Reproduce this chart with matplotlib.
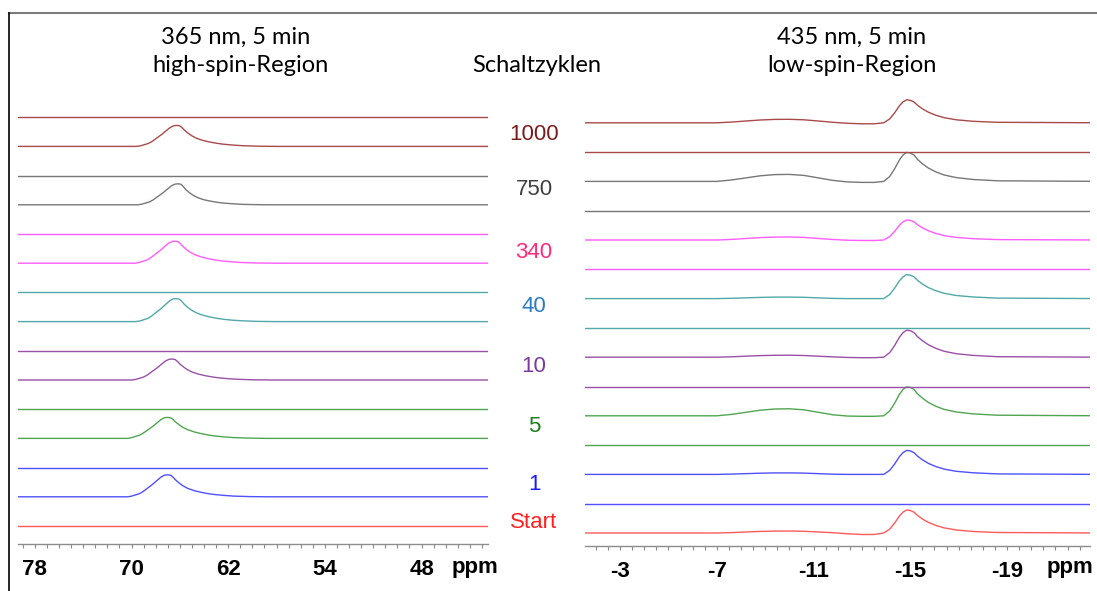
import matplotlib
matplotlib.use("Agg")
import matplotlib.pyplot as plt
from matplotlib.lines import Line2D

# --- data ---
cycles = ["Start", "1", "5", "10", "40", "340", "750", "1000"]

# high-spin region (365 nm): peak position of each peaked spectrum (cycles 1 .. 1000)
hs_center = [67.0, 67.0, 66.65, 66.3, 66.4, 66.15, 66.25]
# ppm offsets from the peak position, and heights (px above baseline) at those offsets
hs_offset = [14.0, 3.35, 3.05, 2.75, 2.35, 2.05, 1.65, 1.25, 0.85, 0.55, 0.25, 0.0,
             -0.25, -0.45, -0.65, -0.95, -1.25, -1.65, -2.15, -2.75, -3.35, -3.85,
             -4.65, -5.45, -6.75, -8.25, -27.0]
hs_height = [
    [0, 0, 0.5, 1.6, 3.1, 5.2, 8.9, 12.6, 16.8, 19.9, 21.7, 22, 21.5, 19.4, 16.8, 13.6, 11, 8.4, 6.3, 4.5, 3.1, 2.3, 1.4, 0.7, 0.2, 0, 0],   # 1
    [0, 0, 0.6, 1.7, 3.2, 5.2, 8.5, 12, 16, 19, 20.7, 21, 20.5, 18.7, 16.3, 13.5, 11, 8.7, 6.6, 4.8, 3.4, 2.5, 1.5, 0.8, 0.3, 0, 0],      # 5
    [0, 0, 0.5, 1.5, 3, 5, 8.5, 12, 16, 19, 20.7, 21, 20.5, 18.5, 16, 13, 10.5, 8, 6, 4.3, 3, 2.2, 1.3, 0.7, 0.2, 0, 0],                 # 10
    [0, 0, 0.5, 1.6, 3.3, 5.5, 9.3, 13.1, 17.5, 20.8, 22.7, 23, 22.4, 20.3, 17.5, 14.2, 11.5, 8.8, 6.6, 4.7, 3.3, 2.4, 1.4, 0.8, 0.2, 0, 0],  # 40
    [0, 0, 0.5, 1.6, 3.1, 5.2, 8.9, 12.6, 16.8, 19.9, 21.7, 22, 21.5, 19.4, 16.8, 13.6, 11, 8.4, 6.3, 4.5, 3.1, 2.3, 1.4, 0.7, 0.2, 0, 0],   # 340
    [0, 0, 0.5, 1.5, 3, 5, 8.5, 12, 16, 19, 20.7, 21, 20.5, 18, 15, 12, 9.5, 7, 5, 3.5, 2.3, 1.6, 0.9, 0.4, 0.1, 0, 0],                    # 750
    [0, 0, 0.5, 1.5, 3, 5, 8.5, 12, 16, 19, 20.7, 21, 20.5, 18.5, 16, 13, 10.5, 8, 6, 4.3, 3, 2.2, 1.3, 0.7, 0.2, 0, 0],                 # 1000
]
hs_flat_ppm = [82.0, 38.0]
hs_flat_height = [0, 0]

# low-spin region (435 nm): peaked spectra for Start, 1 .. 1000
ls_ppm = [-1.0, -7.0, -7.6, -8.2, -8.8, -9.4, -10.0, -10.6, -11.2, -11.8, -12.4, -13.0, -13.5,
          -13.9, -14.15, -14.35, -14.55, -14.7, -14.85, -15.0, -15.15, -15.3, -15.5, -15.75,
          -16.05, -16.4, -16.9, -17.6, -18.6, -23.0]
ls_height = [
    [0, 0, 0.4, 1, 1.6, 1.9, 2, 1.7, 1, 0.3, -0.75, -1.5, -1.5,
     0, 3.9, 9.9, 17, 20.9, 23, 22.5, 20.9, 17.5, 14, 10.6, 7.6, 5.1, 3, 1.5, 0.5, 0],        # Start
    [0, 0, 0.3, 0.75, 1.2, 1.5, 1.5, 1.3, 0.75, 0.2, 0, 0, 0,
     0, 4.1, 10.3, 17.8, 21.8, 24, 23.5, 21.8, 18.2, 14.6, 11, 7.9, 5.3, 3.1, 1.6, 0.5, 0],   # 1
    [0, 0, 1.4, 3.5, 5.6, 6.8, 7, 6, 3.5, 1, -0.25, -0.5, -0.5,
     0, 4.9, 12.5, 21.5, 26.4, 29, 28.4, 26.4, 22, 17.7, 13.3, 9.6, 6.4, 3.8, 1.9, 0.6, 0],   # 5
    [0, 0, 0.4, 1, 1.6, 1.9, 2, 1.7, 1, 0.3, -0.25, -0.5, -0.5,
     0, 4.6, 11.6, 20, 24.6, 27, 26.5, 24.6, 20.5, 16.5, 12.4, 8.9, 5.9, 3.5, 1.8, 0.5, 0],   # 10
    [0, 0, 0.3, 0.75, 1.2, 1.5, 1.5, 1.3, 0.75, 0.2, 0, 0, 0,
     0, 4.1, 10.3, 17.8, 21.8, 24, 23.5, 21.8, 18.2, 14.6, 11, 7.9, 5.3, 3.1, 1.6, 0.5, 0],   # 40
    [0, 0, 0.6, 1.5, 2.4, 2.9, 3, 2.6, 1.5, 0.5, -0.25, -0.5, -0.5,
     0, 3.4, 8.6, 14.8, 18.2, 20, 19.6, 18.2, 15.2, 12.2, 9.2, 6.6, 4.4, 2.6, 1.3, 0.4, 0],   # 340
    [0, 0, 1.4, 3.5, 5.6, 6.8, 7, 6, 3.5, 1, -0.5, -1, -1,
     0, 4.9, 12.5, 21.5, 26.4, 29, 28.4, 26.4, 22, 17.7, 13.3, 9.6, 6.4, 3.8, 1.9, 0.6, 0],   # 750
    [0, 0, 0.7, 1.8, 2.8, 3.4, 3.5, 3, 1.8, 0.5, -0.5, -1, -1,
     0, 3.9, 9.9, 17, 20.9, 23, 22.5, 20.9, 17.5, 14, 10.6, 7.6, 5.1, 3, 1.5, 0.5, 0],        # 1000
]
ls_flat_ppm = [-1.0, -23.0]
ls_flat_height = [0, 0]

hs_ticks = [78, 70, 62, 54, 46]
hs_ticklabels = ["78", "70", "62", "54", "48"]
ls_ticks = [-3, -7, -11, -15, -19]
ls_ticklabels = ["-3", "-7", "-11", "-15", "-19"]

# --- styles / layout ---
trace_colors = ["#ff5a5a", "#5050ff", "#50a550", "#9a50a8", "#50a8a8", "#ff5cff", "#777777", "#a84a4a"]
label_colors = ["#ff2020", "#1a1aff", "#1e7a1e", "#7a3aa0", "#2b7bc4", "#ff2a7a", "#404040", "#7b1c1c"]
label_y_px = [523, 484, 426, 366, 307, 253, 190, 135]

W, H = 1097, 591


def fx(x):
    return x / W


def fy(y):
    return 1 - y / H


fig = plt.figure(figsize=(W / 100, H / 100), dpi=100)
fig.patch.set_facecolor("white")

# left axes: x 18..488 px, y 95..544 px ; right axes: x 585..1090, y 95..546
ax_l = fig.add_axes([fx(18), fy(544), (488 - 18) / W, (544 - 95) / H])
ax_r = fig.add_axes([fx(585), fy(546), (1090 - 585) / W, (546 - 95) / H])

lw = 1.0
step_l = 29.2
step_r = 29.3

# left panel: Start flat, then for each cycle the peaked trace below the flat one
ax_l.plot(hs_flat_ppm, hs_flat_height, color=trace_colors[0], lw=lw)
for i in range(7):
    c = trace_colors[i + 1]
    base = (2 * i + 1) * step_l
    ppm = [hs_center[i] + o for o in hs_offset]
    ax_l.plot(ppm, [base + h for h in hs_height[i]], color=c, lw=lw)
    ax_l.plot(hs_flat_ppm, [base + step_l + h for h in hs_flat_height], color=c, lw=lw)

# right panel: Start peaked, then for each cycle the flat trace below the peaked one
ax_r.plot(ls_ppm, ls_height[0], color=trace_colors[0], lw=lw)
for i in range(7):
    c = trace_colors[i + 1]
    base = (2 * i + 1) * step_r
    ax_r.plot(ls_flat_ppm, [base + h for h in ls_flat_height], color=c, lw=lw)
    ax_r.plot(ls_ppm, [base + step_r + h for h in ls_height[i + 1]], color=c, lw=lw)

ax_l.set_xlim(79.4, 40.5)
ax_l.set_ylim(-18, 431)
ax_r.set_xlim(-1.55, -22.43)
ax_r.set_ylim(-13, 438)

for ax, ticks, labels, minor in [(ax_l, hs_ticks, hs_ticklabels, 1.0),
                                  (ax_r, ls_ticks, ls_ticklabels, 0.5)]:
    for s in ["left", "right", "top"]:
        ax.spines[s].set_visible(False)
    ax.spines["bottom"].set_color("#8c8c8c")
    ax.spines["bottom"].set_linewidth(1.0)
    ax.set_yticks([])
    ax.set_xticks(ticks)
    ax.set_xticklabels(labels, fontsize=16, fontweight="bold", family="Liberation Sans")
    ax.xaxis.set_minor_locator(matplotlib.ticker.MultipleLocator(minor))
    ax.tick_params(axis="x", which="both", direction="out", length=3, width=0.8,
                   color="#8c8c8c", pad=8)
    ax.patch.set_alpha(0)

fig.text(fx(475), fy(568), "ppm", ha="center", va="center", fontsize=16,
         fontweight="bold", family="Liberation Sans")
fig.text(fx(1070), fy(568), "ppm", ha="center", va="center", fontsize=16,
         fontweight="bold", family="Liberation Sans")

# titles
fig.text(fx(236), fy(37), "365 nm, 5 min", ha="center", va="center", fontsize=17, family="Lato")
fig.text(fx(240), fy(66), "high-spin-Region", ha="center", va="center", fontsize=17, family="Lato")
fig.text(fx(537), fy(66), "Schaltzyklen", ha="center", va="center", fontsize=17, family="Lato")
fig.text(fx(852), fy(37), "435 nm, 5 min", ha="center", va="center", fontsize=17, family="Lato")
fig.text(fx(852), fy(66), "low-spin-Region", ha="center", va="center", fontsize=17, family="Lato")

# cycle labels
for name, col, y in zip(cycles, label_colors, label_y_px):
    fig.text(fx(534), fy(y), name, ha="center", va="center", fontsize=16,
             color=col, family="Liberation Sans")

# frame lines
fig.add_artist(Line2D([fx(9), 1], [fy(13), fy(13)], color="#7a7a7a", lw=1.5))
fig.add_artist(Line2D([fx(9), fx(9)], [fy(13), 0], color="black", lw=1.2))

fig.savefig("out.png", dpi=100)
